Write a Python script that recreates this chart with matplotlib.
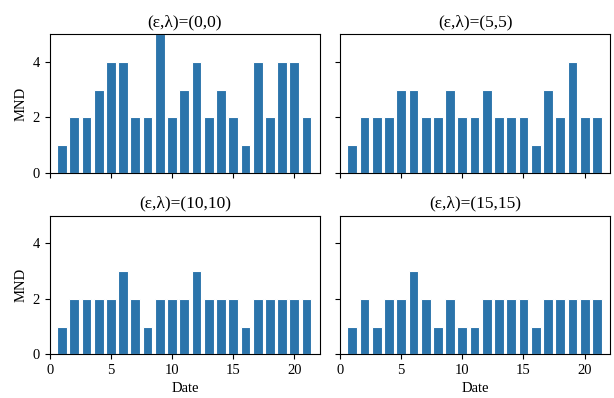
import matplotlib

matplotlib.use("Agg")
import matplotlib.pyplot as plt

plt.rcParams["font.family"] = ["Liberation Serif", "DejaVu Serif"]

dates = list(range(1, 22))
titles = ["(ε,λ)=(0,0)", "(ε,λ)=(5,5)", "(ε,λ)=(10,10)", "(ε,λ)=(15,15)"]
mnd_0 = [1, 2, 2, 3, 4, 4, 2, 2, 5, 2, 3, 4, 2, 3, 2, 1, 4, 2, 4, 4, 2]
mnd_5 = [1, 2, 2, 2, 3, 3, 2, 2, 3, 2, 2, 3, 2, 2, 2, 1, 3, 2, 4, 2, 2]
mnd_10 = [1, 2, 2, 2, 2, 3, 2, 1, 2, 2, 2, 3, 2, 2, 2, 1, 2, 2, 2, 2, 2]
mnd_15 = [1, 2, 1, 2, 2, 3, 2, 1, 2, 1, 1, 2, 2, 2, 2, 1, 2, 2, 2, 2, 2]
series = [mnd_0, mnd_5, mnd_10, mnd_15]

fig, axes = plt.subplots(2, 2, figsize=(6.14, 3.98), dpi=100, sharex=True, sharey=True)
fig.subplots_adjust(left=0.081, right=0.994, top=0.914, bottom=0.11, wspace=0.074, hspace=0.31)

for ax, title, vals in zip(axes.flat, titles, series):
    ax.bar(dates, vals, color="#2b74ab", edgecolor="white", linewidth=0.8)
    ax.set_title(title, fontsize=12.5)
    ax.set_ylim(0, 5)
    ax.set_xlim(0, 22.1)
    ax.set_yticks([0, 2, 4])
    ax.set_xticks([0, 5, 10, 15, 20])
    ax.tick_params(labelsize=10.5)

for ax in axes[:, 0]:
    ax.set_ylabel("MND", fontsize=10.5)
for ax in axes[1, :]:
    ax.set_xlabel("Date", fontsize=10.5)

fig.savefig("out.png")
